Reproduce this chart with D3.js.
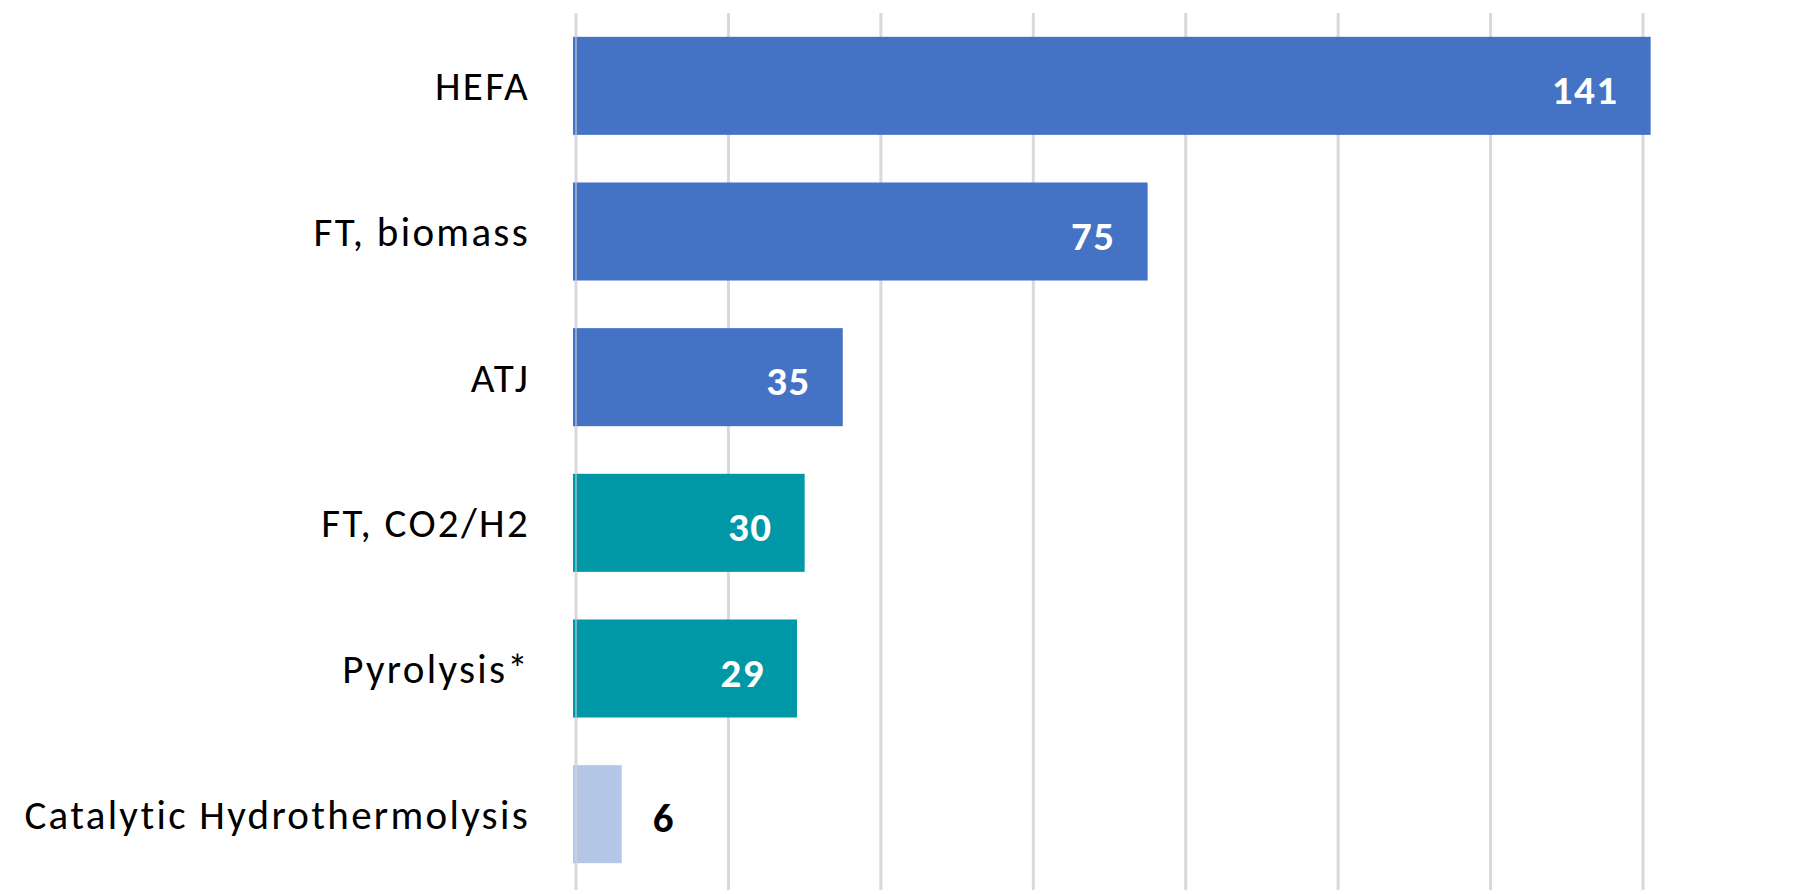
<!DOCTYPE html>
<html>
<head>
<meta charset="utf-8">
<script src="https://cdn.jsdelivr.net/npm/d3@7"></script>
<style>
  html, body { margin: 0; padding: 0; background: #ffffff; }
  svg { display: block; }
</style>
</head>
<body>
<svg id="chart" width="1794" height="894"></svg>
<script>
// ---- data ----
const categories = ["HEFA", "FT, biomass", "ATJ", "FT, CO2/H2", "Pyrolysis*", "Catalytic Hydrothermolysis"];
const values = [141, 75, 35, 30, 29, 6];
const groups = ["bio", "bio", "bio", "synth", "synth", "other"];
const gridTicks = [0, 20, 40, 60, 80, 100, 120, 140];

// ---- styles ----
const groupColor = { bio: "#4472C4", synth: "#0098A7", other: "#B4C7E7" };
const FONT = "Carlito, Calibri, Lato, 'Open Sans', sans-serif";

const svg = d3.select("#chart");
const margin = { left: 576, right: 151, top: 13, bottom: 7 };
const W = 1794, H = 894;

const x = d3.scaleLinear().domain([0, 140]).range([margin.left, W - margin.right]);
const y = d3.scaleBand().domain(categories).range([margin.top, H - margin.bottom])
  .paddingInner(0.327).paddingOuter(0.1635);

// gridlines
svg.append("g").selectAll("line").data(gridTicks).join("line")
  .attr("x1", d => x(d)).attr("x2", d => x(d))
  .attr("y1", margin.top).attr("y2", H - 4)
  .attr("stroke", "#d9d9d9").attr("stroke-width", 3);

const data = categories.map((c, i) => ({ cat: c, v: values[i], g: groups[i] }));

// bars
svg.append("g").selectAll("rect").data(data).join("rect")
  .attr("x", x(0) - 3)
  .attr("y", d => y(d.cat))
  .attr("width", d => x(d.v) - x(0) + 3)
  .attr("height", y.bandwidth())
  .attr("fill", d => groupColor[d.g]);

// zero line over bars (light)
svg.append("line")
  .attr("x1", x(0)).attr("x2", x(0))
  .attr("y1", margin.top).attr("y2", H - 4)
  .attr("stroke", "#d9d9d9").attr("stroke-width", 2).attr("opacity", 0.5);

// category labels
svg.append("g").selectAll("text").data(data).join("text")
  .attr("x", 530)
  .attr("y", d => y(d.cat) + y.bandwidth() / 2 + 14.5)
  .attr("text-anchor", "end")
  .attr("font-family", FONT)
  .attr("font-size", 41)
  .attr("letter-spacing", 2.3)
  .attr("fill", "#000")
  .text(d => d.cat);

// value labels
svg.append("g").selectAll("text").data(data).join("text")
  .attr("x", d => d.v >= 10 ? x(d.v) - 32 : x(d.v) + 31)
  .attr("y", d => y(d.cat) + y.bandwidth() / 2 + 18)
  .attr("text-anchor", d => d.v >= 10 ? "end" : "start")
  .attr("font-family", FONT)
  .attr("font-weight", "bold")
  .attr("font-size", 41)
  .attr("letter-spacing", 1.5)
  .attr("fill", d => d.v >= 10 ? "#ffffff" : "#000000")
  .text(d => d.v);
</script>
</body>
</html>
